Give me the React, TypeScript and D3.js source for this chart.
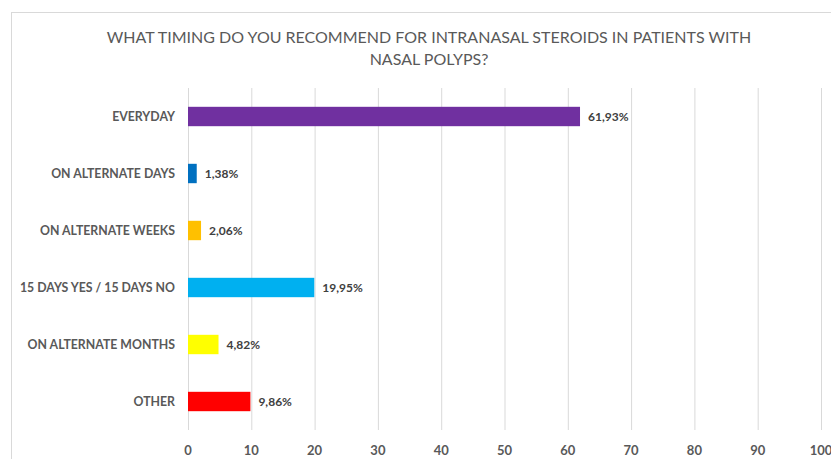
import { useEffect, useRef } from "react";
import * as d3 from "d3";

const categories = [
  "EVERYDAY",
  "ON ALTERNATE DAYS",
  "ON ALTERNATE WEEKS",
  "15 DAYS YES / 15 DAYS NO",
  "ON ALTERNATE MONTHS",
  "OTHER",
];
const values = [61.93, 1.38, 2.06, 19.95, 4.82, 9.86];
const barColors = ["#7030A0", "#0070C0", "#FFC000", "#00B0F0", "#FFFF00", "#FF0000"];
const xTicks = [0, 10, 20, 30, 40, 50, 60, 70, 80, 90, 100];
const titleLines = [
  "WHAT TIMING DO YOU RECOMMEND FOR INTRANASAL STEROIDS IN PATIENTS WITH",
  "NASAL POLYPS?",
];

export default function App() {
  const svgRef = useRef<SVGSVGElement>(null);

  useEffect(() => {
    if (!svgRef.current) return;
    const svg = d3.select(svgRef.current);
    const width = 831;
    const height = 459;
    const margin = { top: 88, right: 10, bottom: 29, left: 188 };
    const plotRight = 821;

    svg.selectAll("*").remove();
    svg.attr("width", width).attr("height", height);

    svg
      .append("rect")
      .attr("width", width)
      .attr("height", height)
      .attr("fill", "#ffffff");

    // chart frame
    svg
      .append("rect")
      .attr("x", 11.5)
      .attr("y", 12.5)
      .attr("width", 850)
      .attr("height", 480)
      .attr("fill", "none")
      .attr("stroke", "#d9d9d9");

    const x = d3.scaleLinear().domain([0, 100]).range([margin.left, plotRight]);
    const y = d3
      .scaleBand()
      .domain(categories)
      .range([margin.top, height - margin.bottom])
      .paddingInner(0.66)
      .paddingOuter(0.33);

    // grid lines
    svg
      .append("g")
      .selectAll("line")
      .data(xTicks)
      .enter()
      .append("line")
      .attr("x1", (d) => x(d) + 0.5)
      .attr("x2", (d) => x(d) + 0.5)
      .attr("y1", margin.top)
      .attr("y2", height - margin.bottom)
      .attr("stroke", "#d9d9d9")
      .attr("stroke-width", 1);

    // x tick labels
    svg
      .append("g")
      .selectAll("text")
      .data(xTicks)
      .enter()
      .append("text")
      .attr("x", (d) => x(d))
      .attr("y", 455)
      .attr("text-anchor", "middle")
      .attr("fill", "#595959")
      .attr("font-family", "Lato, sans-serif")
      .attr("font-size", "13px")
      .attr("font-weight", "bold")
      .text((d) => `${d}`);

    // bars
    svg
      .append("g")
      .selectAll("rect")
      .data(values)
      .enter()
      .append("rect")
      .attr("x", x(0))
      .attr("y", (_, i) => y(categories[i])!)
      .attr("width", (d) => x(d) - x(0))
      .attr("height", y.bandwidth())
      .attr("fill", (_, i) => barColors[i]);

    // category labels
    svg
      .append("g")
      .selectAll("text")
      .data(categories)
      .enter()
      .append("text")
      .attr("x", 175)
      .attr("y", (d) => y(d)! + y.bandwidth() / 2)
      .attr("dy", "0.35em")
      .attr("text-anchor", "end")
      .attr("fill", "#595959")
      .attr("font-family", "Lato, sans-serif")
      .attr("font-size", "12.3px")
      .attr("font-weight", "bold")
      .text((d) => d);

    // value labels
    svg
      .append("g")
      .selectAll("text")
      .data(values)
      .enter()
      .append("text")
      .attr("x", (d) => x(d) + 8)
      .attr("y", (_, i) => y(categories[i])! + y.bandwidth() / 2)
      .attr("dy", "0.35em")
      .attr("fill", "#404040")
      .attr("font-family", "Lato, sans-serif")
      .attr("font-size", "12px")
      .attr("font-weight", "bold")
      .text((d) => `${d.toFixed(2).replace(".", ",")}%`);

    // title
    svg
      .append("g")
      .selectAll("text")
      .data(titleLines)
      .enter()
      .append("text")
      .attr("x", 429)
      .attr("y", (_, i) => 43 + i * 22)
      .attr("text-anchor", "middle")
      .attr("fill", "#595959")
      .attr("font-family", "Lato, sans-serif")
      .attr("font-size", "16px")
      .text((d) => d);
  }, []);

  return (
    <div style={{ position: "absolute", left: 0, top: 0 }}>
      <svg ref={svgRef}></svg>
    </div>
  );
}
